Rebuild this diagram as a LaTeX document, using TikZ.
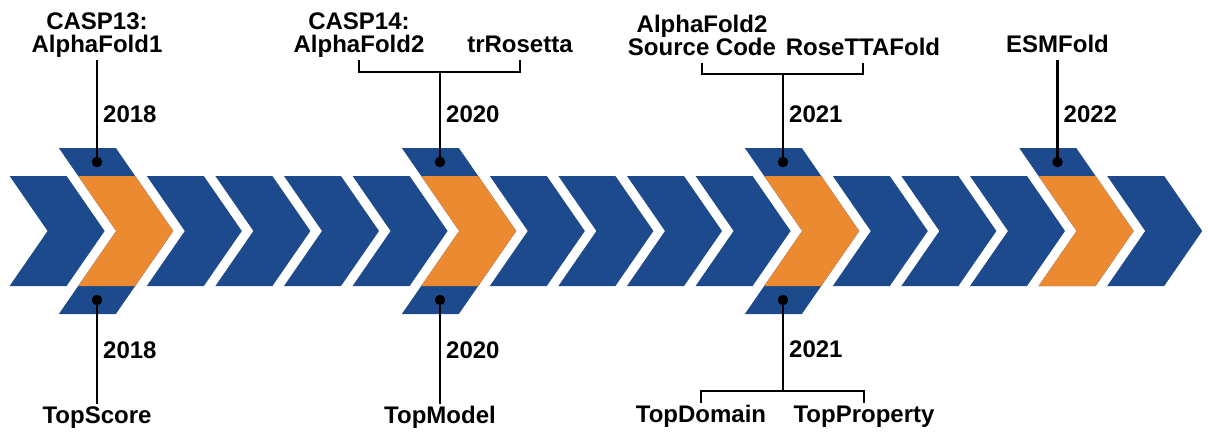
\documentclass[tikz,border=0pt]{standalone}
\usepackage{fontspec}
\setmainfont{Liberation Sans}
\usepackage{tikz}
\usepackage{xcolor}
\definecolor{chevblue}{RGB}{28,74,140}
\definecolor{chevorange}{RGB}{236,138,50}

\begin{document}
\begin{tikzpicture}[x=1pt,y=-1pt,
            lbl/.style={font=\fontsize{24}{23.5}\selectfont\bfseries,inner sep=2pt,align=center},
            toplbl/.style={lbl,anchor=south,text depth=5pt},
            botlbl/.style={lbl,anchor=north,text height=17pt},
            yr/.style={lbl,anchor=base west},
            stem/.style={line width=2.8pt},
            dot/.style={fill=black,circle,inner sep=0pt,minimum size=10.5pt}]
            \useasboundingbox (0,0) rectangle (1208,432);
            \foreach \i in {0,...,16} {
                \pgfmathsetmacro\xo{9.6+68.6*\i}
                \fill[chevblue] (\xo,176) -- ++(57,0) -- ++(38,55) -- ++(-38,55) -- ++(-57,0) -- ++(38,-55) -- cycle;
            }
            \foreach \i in {1,6,11,15} {
                \pgfmathsetmacro\xo{9.6+68.6*\i}
                \fill[chevblue] (\xo-19.35,148) -- ++(57,0) -- ++(20.73,30) -- ++(-57,0) -- cycle;
            }
            \foreach \i in {1,6,11} {
                \pgfmathsetmacro\xo{9.6+68.6*\i}
                \fill[chevblue] (\xo-19.35,314) -- ++(57,0) -- ++(20.73,-30) -- ++(-57,0) -- cycle;
            }
            \foreach \i in {1,6,11,15} {
                \pgfmathsetmacro\xo{9.6+68.6*\i}
                \fill[chevorange] (\xo,176) -- ++(57,0) -- ++(38,55) -- ++(-38,55) -- ++(-57,0) -- ++(38,-55) -- cycle;
            }
            \node[dot] (d18t) at (97,162) {};
            \node[dot] (d18b) at (97,300) {};
            \node[dot] (d20t) at (440,162) {};
            \node[dot] (d20b) at (440,300) {};
            \node[dot] (d21t) at (783,162) {};
            \node[dot] (d21b) at (783,300) {};
            \node[dot] (d22t) at (1057.5,162) {};

            \node[toplbl] (casp13) at (97,60) {CASP13:\\AlphaFold1};
            \node[toplbl] (casp14) at (359,60) {CASP14:\\AlphaFold2};
            \node[toplbl] (trros) at (520,60) {trRosetta};
            \node[toplbl] (afsrc) at (702,63) {AlphaFold2\\Source Code};
            \node[toplbl] (rosetta) at (863,63) {RoseTTAFold};
            \node[toplbl] (esm) at (1057.5,60) {ESMFold};

            \node[botlbl] (tscore) at (97,404) {TopScore};
            \node[botlbl] (tmodel) at (440,404) {TopModel};
            \node[botlbl] (tdomain) at (701,403) {TopDomain};
            \node[botlbl] (tprop) at (864,403) {TopProperty};

            \node[yr] (y18t) at (101,122) {2018};
            \node[yr] (y18b) at (101,358) {2018};
            \node[yr] (y20t) at (444,122) {2020};
            \node[yr] (y20b) at (444,358) {2020};
            \node[yr] (y21t) at (787,122) {2021};
            \node[yr] (y21b) at (787,357) {2021};
            \node[yr] (y22t) at (1061.5,122) {2022};

            \coordinate (b20) at (440,72);
            \coordinate (b21t) at (783,74);
            \coordinate (b21b) at (783,391);

            \draw[stem] (casp13) -- (d18t);
            \draw[stem] (d18b) -- (tscore);
            \draw[stem] (casp14.south) |- (b20) -| (trros.south);
            \draw[stem] (b20) -- (d20t);
            \draw[stem] (d20b) -- (tmodel);
            \draw[stem] (afsrc.south) |- (b21t) -| (rosetta.south);
            \draw[stem] (b21t) -- (d21t);
            \draw[stem] (tdomain.north) |- (b21b) -| (tprop.north);
            \draw[stem] (d21b) -- (b21b);
            \draw[stem] (esm) -- (d22t);
\end{tikzpicture}
\end{document}
